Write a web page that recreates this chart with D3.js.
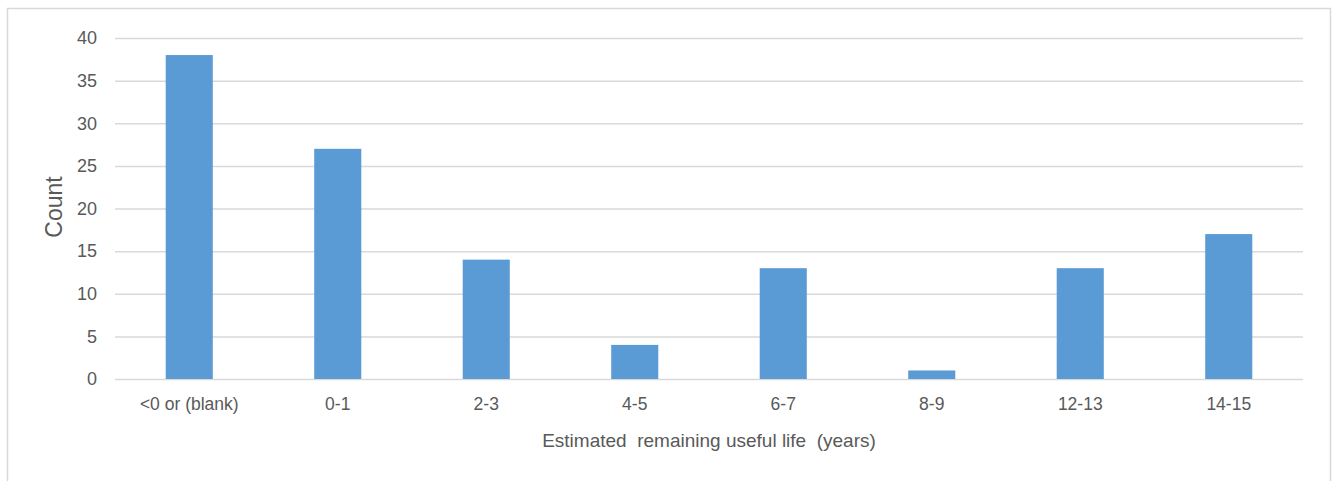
<!DOCTYPE html>
<html><head><meta charset="utf-8">
<script src="https://cdn.jsdelivr.net/npm/d3@7"></script>
<style>body{margin:0;background:#fff;overflow:hidden}svg{display:block}</style>
</head><body>
<script>
const categories = ["<0 or (blank)","0-1","2-3","4-5","6-7","8-9","12-13","14-15"];
const counts = [38,27,14,4,13,1,13,17];
const yTicks = [0,5,10,15,20,25,30,35,40];
const xTitle = "Estimated  remaining useful life  (years)";
const yTitle = "Count";

(function(){
const W=1333,H=481;
const svg=d3.select("body").append("svg").attr("width",W).attr("height",H);
svg.append("rect").attr("x",7.5).attr("y",8.5).attr("width",1323).attr("height",490)
  .attr("fill","#fff").attr("stroke","#d9d9d9").attr("stroke-width",1.5);

const pLeft=115,pRight=1303,pTop=38,pBottom=379;
const x=d3.scaleBand().domain(categories).range([pLeft,pRight]).paddingInner(0.683).paddingOuter(0.3415);
const y=d3.scaleLinear().domain([0,40]).range([pBottom,pTop]);
const font="'Liberation Sans', Arial, sans-serif";

const gy=svg.append("g").attr("transform",`translate(${pLeft},0)`)
  .call(d3.axisLeft(y).tickValues(yTicks).tickSize(-(pRight-pLeft)).tickPadding(18));
gy.select(".domain").remove();
gy.selectAll(".tick line").attr("stroke","#d9d9d9").attr("stroke-width",1.5);
gy.selectAll(".tick text").attr("fill","#595959").attr("font-family",font).attr("font-size","18px");

svg.append("g").selectAll("rect").data(counts).join("rect")
  .attr("x",(d,i)=>x(categories[i])).attr("width",x.bandwidth())
  .attr("y",d=>y(d)).attr("height",d=>y(0)-y(d)).attr("fill","#5b9bd5");

const gx=svg.append("g").attr("transform",`translate(0,${pBottom})`)
  .call(d3.axisBottom(x).tickSize(0).tickPadding(19));
gx.select(".domain").remove();
gx.selectAll(".tick text").attr("fill","#595959").attr("font-family",font).attr("font-size","17.5px");

svg.append("text").attr("x",(pLeft+pRight)/2).attr("y",447).attr("text-anchor","middle")
  .attr("fill","#595959").attr("font-family",font).attr("font-size","19px")
  .style("white-space","pre").text(xTitle);
svg.append("text").attr("transform","translate(62,207) rotate(-90)").attr("text-anchor","middle")
  .attr("fill","#595959").attr("font-family",font).attr("font-size","23px").text(yTitle);
})();
</script>
</body></html>
